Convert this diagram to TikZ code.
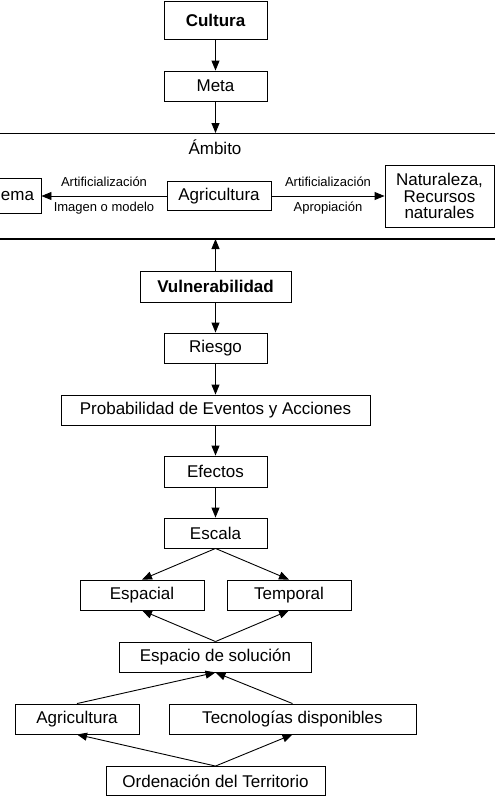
\documentclass[tikz,border=0pt]{standalone}
\usepackage{fontspec}
\setmainfont{Liberation Sans}
\usetikzlibrary{arrows.meta}
\begin{document}
\begin{tikzpicture}[x=1pt,y=-1pt,
  box/.style={draw, line width=0.9pt, inner sep=0pt, font=\fontsize{17}{16.5}\selectfont, align=center, minimum height=30pt},
  lbl/.style={inner sep=0pt, font=\fontsize{13}{15}\selectfont},
  arr/.style={line width=0.9pt, -{Triangle[length=10pt,width=8pt]}},
  rulel/.style={line width=0.9pt}]
\useasboundingbox (0,0) rectangle (495,796);

% top part
\node[box, minimum width=103pt, minimum height=38pt, font=\fontsize{17}{19}\selectfont\bfseries] (cultura) at (215.5,20) {Cultura};
\node[box, minimum width=103pt] (meta) at (215.5,86) {Meta};

\coordinate (tlL) at (0,133);
\coordinate (tlR) at (495,133);
\coordinate (tl) at (215.5,133);
\coordinate (blL) at (0,239);
\coordinate (blR) at (495,239);
\coordinate (bl) at (215.5,239);
\draw[rulel, line width=0.7pt] (tlL) -- (tlR);
\draw[rulel, line width=1.2pt] (blL) -- (blR);

\node[box, draw=none] (ambito) at (215,147) {Ámbito};

\node[box, minimum width=47pt, minimum height=35pt] (ema) at (17.5,196) {ema};
\node[box, minimum width=104pt, minimum height=29pt] (agri1) at (219,196) {Agricultura};
\node[box, minimum width=109pt, minimum height=62pt] (nat) at (439.5,196) {Naturaleza,\\Recursos\\naturales};

\draw[arr] (agri1.west) -- (ema.east)
  node[lbl, midway, yshift=14pt] (l1) {Artificialización}
  node[lbl, midway, yshift=-12pt] (l2) {Imagen o modelo};
\draw[arr] (agri1.east) -- (nat.west)
  node[lbl, midway, yshift=14pt] (l3) {Artificialización}
  node[lbl, midway, yshift=-12pt] (l4) {Apropiación};

\draw[arr] (cultura) -- (meta);
\draw[arr] (meta.south) -- (tl);

% middle chain
\node[box, minimum width=151pt, minimum height=31pt, font=\fontsize{17}{19}\selectfont\bfseries] (vuln) at (215.5,286.5) {Vulnerabilidad};
\node[box, minimum width=103pt] (riesgo) at (215.5,348) {Riesgo};
\node[box, minimum width=309pt] (prob) at (215.5,410) {Probabilidad de Eventos y Acciones};
\node[box, minimum width=103pt, minimum height=31pt] (efectos) at (215.5,471.5) {Efectos};
\node[box, minimum width=103pt] (escala) at (215.5,533) {Escala};

\draw[arr] (vuln.north) -- (bl);
\draw[arr] (vuln) -- (riesgo);
\draw[arr] (riesgo) -- (prob);
\draw[arr] (prob) -- (efectos);
\draw[arr] (efectos) -- (escala);

% lower part
\node[box, minimum width=124pt] (espacial) at (142,595) {Espacial};
\node[box, minimum width=124pt] (temporal) at (289,595) {Temporal};
\node[box, minimum width=192pt] (espacio) at (215.5,657) {Espacio de solución};
\node[box, minimum width=124pt] (agri2) at (77,719) {Agricultura};
\node[box, minimum width=247pt] (tec) at (292.5,719) {Tecnologías disponibles};
\node[box, minimum width=219pt, minimum height=29pt] (orden) at (215.5,781) {Ordenación del Territorio};

\draw[arr] (escala.south) -- (espacial.north);
\draw[arr] (escala.south) -- (temporal.north);
\draw[arr] (espacio.north) -- (espacial.south);
\draw[arr] (espacio.north) -- (temporal.south);
\draw[arr] (agri2.north) -- (espacio.south);
\draw[arr] (tec.north) -- (espacio.south);
\draw[arr] (orden.north) -- (agri2.south);
\draw[arr] (orden.north) -- (tec.south);
\end{tikzpicture}
\end{document}
